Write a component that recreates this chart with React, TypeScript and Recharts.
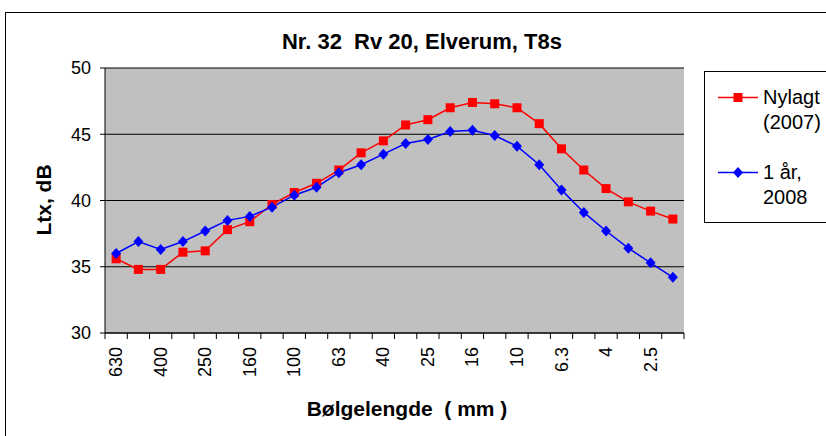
import { LineChart, Line, XAxis, YAxis, CartesianGrid } from "recharts";

const wavelengths = ["630", "500", "400", "315", "250", "200", "160", "125", "100", "80", "63", "50", "40", "31.5", "25", "20", "16", "12.5", "10", "8", "6.3", "5", "4", "3.15", "2.5", "2"];
const nylagt = [35.6, 34.8, 34.8, 36.1, 36.2, 37.8, 38.4, 39.7, 40.6, 41.3, 42.3, 43.6, 44.5, 45.7, 46.1, 47.0, 47.4, 47.3, 47.0, 45.8, 43.9, 42.3, 40.9, 39.9, 39.2, 38.6];
const etAar = [36.0, 36.9, 36.3, 36.9, 37.7, 38.5, 38.8, 39.5, 40.4, 41.0, 42.1, 42.7, 43.5, 44.3, 44.6, 45.2, 45.3, 44.9, 44.1, 42.7, 40.8, 39.1, 37.7, 36.4, 35.3, 34.2];
const yTicks = [30, 35, 40, 45, 50];

const data = wavelengths.map((w, i) => ({ w, nylagt: nylagt[i], etAar: etAar[i] }));

const PLOT_W = 579;
const BAND = PLOT_W / wavelengths.length;
const FONT = "Arial, 'Liberation Sans', sans-serif";

function XTick(props: any) {
  const { x, y, index } = props;
  const last = index === wavelengths.length - 1;
  return (
    <g>
      <line x1={x - BAND / 2} x2={x - BAND / 2} y1={y} y2={y + 6} stroke="#000" />
      {last && <line x1={x + BAND / 2} x2={x + BAND / 2} y1={y} y2={y + 6} stroke="#000" />}
      {index % 2 === 0 && (
        <text
          x={x}
          y={y + 14}
          transform={`rotate(-90 ${x} ${y + 14})`}
          textAnchor="end"
          dominantBaseline="central"
          fontSize={18}
          fontFamily={FONT}
          fill="#000"
        >
          {props.payload.value}
        </text>
      )}
    </g>
  );
}

function Square(props: any) {
  const { cx, cy, index } = props;
  return <rect key={index} x={cx - 4.5} y={cy - 4.5} width={9} height={9} fill="#FF0000" />;
}

function Diamond(props: any) {
  const { cx, cy, index } = props;
  return <path key={index} d={`M${cx} ${cy - 5.5} L${cx + 5} ${cy} L${cx} ${cy + 5.5} L${cx - 5} ${cy} Z`} fill="#0000FF" />;
}

export default function App() {
  return (
    <div style={{ position: "absolute", left: 0, top: 0, width: 826, height: 436, overflow: "hidden", background: "#fff", fontFamily: FONT }}>
      <div style={{ position: "absolute", left: 5, top: 12, width: 840, height: 450, border: "1.5px solid #000" }} />
      <div style={{ position: "absolute", left: 0, top: 29, width: 844, textAlign: "center", fontSize: 22, lineHeight: "26px", fontWeight: "bold" }}>
        Nr. 32&nbsp;&nbsp;Rv 20, Elverum, T8s
      </div>
      <div style={{ position: "absolute", left: 0, top: 396, width: 814, textAlign: "center", fontSize: 21, lineHeight: "26px", fontWeight: "bold" }}>
        Bølgelengde&nbsp;&nbsp;( mm )
      </div>
      <div
        style={{
          position: "absolute",
          left: 44,
          top: 200,
          transform: "translate(-50%, -50%) rotate(-90deg)",
          fontSize: 21,
          fontWeight: "bold",
          whiteSpace: "nowrap",
        }}
      >
        Ltx, dB
      </div>
      <div style={{ position: "absolute", left: 0, top: 0 }}>
        <LineChart width={826} height={436} data={data} margin={{ top: 68, right: 142, bottom: 43, left: 50 }}>
          <CartesianGrid vertical={false} stroke="#000" fill="#C0C0C0" fillOpacity={1} />
          <XAxis
            dataKey="w"
            interval={0}
            tickSize={0}
            tickMargin={0}
            tickLine={false}
            height={60}
            padding={{ left: BAND / 2, right: BAND / 2 }}
            axisLine={{ stroke: "#000" }}
            tick={<XTick />}
          />
          <YAxis
            domain={[30, 50]}
            ticks={yTicks}
            width={55}
            axisLine={{ stroke: "#000" }}
            tickLine={{ stroke: "#000" }}
            tickSize={5}
            tickMargin={9}
            tick={{ fill: "#000", fontSize: 18, fontFamily: FONT }}
          />
          <YAxis
            yAxisId="r"
            orientation="right"
            domain={[30, 50]}
            width={0}
            tick={false}
            tickLine={false}
            axisLine={{ stroke: "#000" }}
          />
          <Line dataKey="nylagt" stroke="#FF0000" strokeWidth={1.5} dot={<Square />} isAnimationActive={false} />
          <Line dataKey="etAar" stroke="#0000FF" strokeWidth={1.5} dot={<Diamond />} isAnimationActive={false} />
        </LineChart>
      </div>
      <div style={{ position: "absolute", left: 704, top: 71, width: 130, height: 150, border: "1px solid #000", background: "#fff" }}>
        <div style={{ position: "absolute", left: 13, top: 13, display: "flex", alignItems: "flex-start" }}>
          <svg width={41} height={25}>
            <line x1={0} x2={40} y1={12.5} y2={12.5} stroke="#FF0000" strokeWidth={1.5} />
            <rect x={15.5} y={8} width={9} height={9} fill="#FF0000" />
          </svg>
          <div style={{ marginLeft: 4, fontSize: 20, lineHeight: "25px" }}>
            Nylagt
            <br />
            (2007)
          </div>
        </div>
        <div style={{ position: "absolute", left: 13, top: 88, display: "flex", alignItems: "flex-start" }}>
          <svg width={41} height={25}>
            <line x1={0} x2={40} y1={12.5} y2={12.5} stroke="#0000FF" strokeWidth={1.5} />
            <path d="M20 7 L25 12.5 L20 18 L15 12.5 Z" fill="#0000FF" />
          </svg>
          <div style={{ marginLeft: 4, fontSize: 20, lineHeight: "25px" }}>
            1 år,
            <br />
            2008
          </div>
        </div>
      </div>
    </div>
  );
}
